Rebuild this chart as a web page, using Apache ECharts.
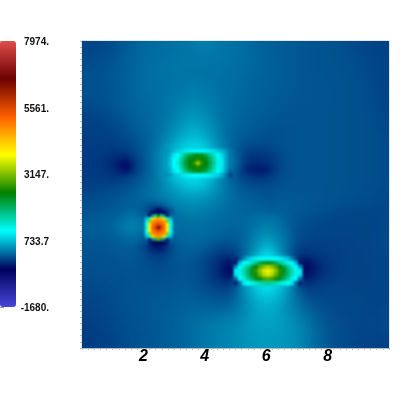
<!DOCTYPE html>
<html>
<head>
<meta charset="utf-8">
<style>
html, body { margin: 0; background: #fff; }
#chart, #sources { position: absolute; left: 0; top: 0; width: 410px; height: 410px; }
#soften { position: absolute; left: 82px; top: 41px; width: 307px; height: 307px; backdrop-filter: blur(3px); pointer-events: none; }
#sources { filter: blur(1.1px); pointer-events: none; }
</style>
<script src="https://cdn.jsdelivr.net/npm/echarts@6/dist/echarts.min.js"></script>
</head>
<body>
<div id="chart"></div>
<div id="soften"></div>
<div id="sources"></div>
<script>
// colour bar
var barColors = ['#4747db', '#00005b', '#00ffff', '#007f00', '#ffff00', '#ff6000', '#6b0000', '#e04c4c'];
var barMin = -1680;
var barMax = 7974;
var barTicks = [-1680, 733.7, 3147, 5561, 7974];
var barLabels = ['-1680.', '733.7', '3147.', '5561.', '7974.'];
var xTicks = [2, 4, 6, 8];

// field, top row first, whole plot
var field = [
[70,70,80,95,120,160,190,220,250,270,280,290,300,310,320,340,360,380,370,340,320,310,300,280,250,230,220,200,190,180,170,160,150,145,140,135,130,115,100,85,70,60,55,50],
[75,80,95,110,135,170,200,230,260,280,290,300,310,320,330,340,350,360,350,340,320,310,300,280,260,240,220,200,190,180,170,160,150,145,140,135,130,120,110,95,80,70,65,60],
[100,100,115,125,145,180,205,235,265,285,295,305,315,325,330,335,340,345,340,335,325,315,300,285,260,240,225,205,190,180,170,160,150,145,140,135,130,125,115,105,90,75,70,65],
[110,115,125,140,160,190,215,245,275,295,305,315,325,330,330,330,330,330,325,320,315,305,290,275,255,240,225,205,190,180,170,160,150,145,140,140,135,130,120,110,95,80,75,70],
[120,125,135,150,170,195,220,250,275,295,305,315,325,330,330,325,325,320,320,315,310,300,285,270,255,240,225,205,190,180,170,160,155,150,145,140,135,130,125,115,100,85,80,70],
[125,130,140,155,175,195,225,250,275,295,305,315,320,330,335,335,335,325,320,310,305,295,280,265,250,235,220,205,190,180,170,160,155,150,145,140,140,135,130,120,105,90,75,65],
[125,130,140,155,170,190,225,250,275,290,300,310,320,330,345,355,355,345,330,310,300,285,275,260,245,230,215,200,185,180,170,160,155,150,150,145,140,135,130,125,110,90,75,65],
[125,130,140,150,165,190,220,245,270,285,295,310,325,345,365,380,380,365,345,320,295,280,265,250,240,225,210,195,180,175,170,160,155,150,150,145,140,135,130,125,115,95,80,70],
[115,120,130,145,160,185,215,240,260,275,290,310,335,360,390,410,410,390,360,330,295,275,260,245,230,215,205,190,175,170,165,160,155,150,150,145,140,135,130,125,115,100,85,75],
[100,105,115,130,150,180,205,230,250,270,285,310,345,380,420,445,445,420,380,340,300,270,255,240,225,210,195,180,170,165,160,155,155,150,150,145,140,135,130,125,120,105,90,80],
[60,65,80,100,125,155,190,220,240,260,285,315,355,405,455,490,490,455,405,350,300,265,245,225,210,195,185,170,160,155,155,150,150,150,145,145,140,135,130,125,120,110,95,85],
[55,60,70,85,105,135,170,205,230,255,285,325,375,435,495,540,540,495,435,365,305,260,235,215,200,185,170,160,150,150,150,150,150,150,145,145,140,135,130,125,120,115,100,90],
[40,45,50,65,85,110,145,180,215,250,290,340,400,475,550,600,600,550,470,385,310,255,225,200,180,165,150,140,140,145,145,150,150,150,145,145,140,135,130,125,120,115,105,95],
[35,35,40,50,60,85,120,155,195,240,295,360,440,530,620,680,680,620,515,410,320,250,205,175,160,145,130,125,130,140,145,150,150,150,145,145,140,135,130,125,120,115,110,100],
[30,30,30,35,40,60,90,125,170,235,310,390,490,610,720,800,800,720,590,450,340,245,190,150,130,115,110,115,125,140,145,150,150,150,145,145,140,135,130,125,120,115,110,105],
[25,25,20,15,10,20,45,90,150,235,330,440,600,720,800,850,850,800,680,520,370,250,150,90,60,50,60,85,115,135,145,150,150,150,145,145,140,135,130,125,120,115,110,105],
[20,15,10,-10,-40,-70,-50,40,130,240,340,470,600,700,750,800,800,750,680,560,390,320,170,20,-20,-25,-10,30,90,130,145,150,150,150,145,145,140,135,130,125,120,115,110,105],
[15,10,0,-30,-90,-180,-260,-30,110,230,340,480,620,720,760,800,800,760,700,570,400,330,170,0,-50,-55,-30,20,85,125,145,150,150,150,145,145,140,135,130,125,120,115,110,105],
[20,15,5,-20,-70,-160,-230,-20,120,235,340,470,600,700,750,800,800,750,680,560,380,300,100,-120,-170,-200,-170,-10,80,125,145,150,150,150,145,145,140,135,130,125,120,115,110,105],
[25,25,20,5,-10,10,50,100,170,245,330,450,620,760,830,880,880,830,720,500,330,210,110,40,0,-10,10,60,105,135,145,150,150,150,145,145,140,135,130,125,120,115,110,105],
[40,40,45,50,60,80,110,150,200,265,340,420,530,650,750,800,800,750,620,480,350,250,170,120,95,85,90,110,130,145,150,150,150,150,145,145,140,135,130,125,120,115,110,105],
[70,70,80,95,110,130,160,195,240,285,340,400,470,540,600,640,640,600,530,440,350,270,215,175,150,135,130,140,155,165,165,160,155,150,145,140,135,130,125,120,115,110,105,100],
[100,105,115,130,150,170,195,220,250,285,325,375,425,470,510,530,530,500,450,395,340,285,240,210,190,175,165,165,175,180,175,165,160,155,150,140,135,125,120,115,110,105,100,95],
[120,125,135,150,165,180,200,215,225,180,150,200,330,410,435,450,450,430,395,350,310,275,250,230,215,205,190,190,195,190,180,170,160,150,140,130,120,110,105,100,95,90,90,90],
[140,150,160,170,185,215,250,260,200,0,-200,-150,170,320,370,385,385,370,345,315,285,265,255,245,240,235,225,215,200,185,170,155,140,125,115,105,95,90,85,80,80,80,80,85],
[170,180,185,195,225,280,330,345,300,350,350,350,300,280,310,325,330,320,300,280,265,255,255,265,290,320,340,320,270,205,160,135,115,100,90,80,75,70,70,70,70,70,75,85],
[200,205,200,215,255,320,380,390,330,400,500,500,350,300,290,290,295,290,275,260,250,245,245,265,310,350,380,350,290,220,155,120,100,85,75,70,65,65,65,65,65,70,75,90],
[190,195,190,200,230,285,330,345,290,300,350,350,300,270,275,280,285,280,265,245,225,215,225,265,340,410,460,410,340,250,150,100,85,70,65,60,60,60,60,65,65,70,80,95],
[165,170,170,180,200,225,250,260,220,80,-100,-100,100,220,250,260,260,250,225,195,165,170,205,280,380,480,560,480,380,260,130,80,60,55,50,50,50,55,55,60,65,70,80,95],
[145,150,155,160,175,190,200,190,120,-50,-250,-200,30,170,210,230,225,195,150,110,85,100,170,300,420,570,680,570,420,270,110,40,20,25,30,35,40,45,50,55,60,70,80,90],
[135,140,145,150,160,170,175,165,130,70,0,0,90,165,190,190,170,135,80,30,0,10,100,260,480,720,880,720,480,240,40,-20,-20,0,15,25,35,45,50,55,60,65,70,80],
[125,130,135,140,145,155,160,160,135,105,80,85,120,155,170,160,130,80,20,-50,-150,-200,200,500,750,900,950,900,750,500,200,-230,-180,-100,-40,0,25,40,45,50,55,60,65,70],
[115,120,125,130,135,140,145,145,135,115,100,105,125,150,160,150,120,70,0,-80,-220,-280,300,600,750,800,800,800,750,600,300,-280,-250,-160,-60,-10,20,40,45,50,50,55,60,65],
[110,115,120,120,125,130,135,135,130,125,120,120,135,155,160,150,120,75,0,-70,-200,-240,300,600,750,800,800,800,750,600,300,-260,-200,-120,-40,0,25,45,50,50,50,55,60,65],
[95,100,105,115,120,125,130,135,135,135,135,140,150,165,170,160,130,90,30,-20,-60,-20,300,550,780,880,920,880,780,550,300,-50,-80,-30,10,30,45,55,55,55,55,60,60,65],
[85,90,95,105,115,125,135,140,145,150,155,160,165,175,180,175,155,125,90,60,50,100,280,520,700,840,900,840,700,520,280,100,30,30,45,55,60,60,60,60,60,60,60,65],
[70,75,85,95,110,120,135,145,155,160,165,170,175,185,195,195,180,160,140,125,125,180,320,480,620,730,780,730,620,480,320,180,100,75,70,70,70,70,70,65,65,60,60,65],
[60,65,75,90,105,120,135,145,155,165,170,175,180,195,205,215,210,200,190,185,190,240,340,450,570,650,680,650,570,450,340,240,160,120,90,85,80,80,75,70,65,60,60,70],
[55,60,70,85,100,115,130,145,155,165,175,180,190,205,225,240,245,245,245,250,260,300,370,450,540,600,620,600,540,450,370,290,210,165,125,105,90,85,80,75,65,65,70,85],
[45,50,60,75,95,110,125,140,155,165,175,190,200,220,240,260,275,285,295,310,330,360,410,470,540,580,590,580,540,470,410,340,265,205,155,120,100,90,80,75,70,70,80,90],
[35,40,50,65,85,105,120,135,150,160,175,190,205,225,250,275,295,315,335,360,380,405,440,490,540,560,570,560,540,490,440,380,305,240,180,130,110,95,85,75,70,70,80,95],
[30,35,45,60,80,100,120,130,145,160,175,190,205,225,250,280,305,330,355,380,400,425,455,495,530,545,550,545,530,495,455,395,320,255,190,140,115,100,85,75,70,70,75,85],
[25,30,40,55,75,95,115,130,145,160,175,190,205,225,250,280,310,335,360,385,405,430,460,490,520,530,530,530,520,490,460,405,330,265,200,150,120,100,85,75,65,65,65,70],
[25,30,40,55,75,95,115,130,145,160,175,190,205,225,250,280,310,335,360,390,410,435,460,490,510,520,520,520,510,490,460,410,335,270,205,155,125,105,85,70,60,55,55,55]
];

// finer samples over the three sources
var upperBar = [
[470,560,700,800,900,980,1030,1050,1060,1050,1030,980,900,800,680,520,340],
[500,650,950,1090,1450,1800,2100,2250,2350,2250,2050,1750,1400,1090,880,600,340],
[520,700,1050,1200,1650,2050,2350,2500,2600,2500,2350,1950,1550,1150,950,620,350],
[540,740,1080,1300,1750,2150,2450,2650,3300,2650,2450,2050,1650,1200,980,620,350],
[520,700,1050,1200,1650,2050,2350,2500,2600,2500,2350,1950,1550,1150,950,600,330],
[500,640,950,1090,1450,1800,2100,2250,2350,2250,2050,1750,1400,1090,880,560,250],
[450,540,700,800,900,980,1030,1050,1060,1050,1030,980,900,800,640,380,80]
];
var lowerBar = [
[-100,100,450,750,900,1000,1080,1100,1100,1100,1080,1000,900,750,450,100,-100],
[-150,700,1050,1150,1400,1700,2000,2200,2300,2200,2000,1700,1400,1150,1050,700,-150],
[500,1080,1300,1700,2100,2500,2900,3200,3400,3200,2900,2500,2100,1700,1300,1080,500],
[1000,1200,1500,1900,2300,2700,3200,3600,4000,3600,3200,2700,2300,1900,1500,1200,1000],
[900,1150,1450,1850,2200,2600,3000,3400,3600,3400,3000,2600,2200,1850,1450,1150,900],
[300,1050,1250,1600,1950,2300,2550,2800,2900,2800,2550,2300,1950,1600,1250,1050,300],
[-100,300,950,1080,1200,1350,1500,1600,1650,1600,1500,1350,1200,1080,950,300,-100]
];
var blob = [
[150,100,0,-120,-200,-120,0,100,150],
[150,-50,-280,-300,-300,-300,-280,-50,150],
[250,-250,400,1600,2400,1600,400,-250,250],
[700,1200,3600,4400,4700,4400,3600,1200,700],
[1000,3300,4700,5000,5100,5000,4700,3300,1000],
[1100,3900,5000,5300,5600,5300,5000,3900,1100],
[1200,4000,5100,5700,6500,5700,5100,4000,1200],
[1100,3900,5000,5300,5600,5300,5000,3900,1100],
[1000,3300,4700,5000,5100,5000,4700,3300,1000],
[700,1200,3600,4600,4800,4600,3600,1200,700],
[250,-250,400,2000,3000,2000,400,-250,250],
[150,-100,-280,-290,-300,-290,-280,-100,150]
];

// x, yTop, cell size, value
function toCells(rows, x0, yTop, step) {
    var out = [];
    rows.forEach(function(row, j) {
        row.forEach(function(v, i) {
            out.push([x0 + i * step, yTop - j * step, step, v]);
        });
    });
    return out;
}

function cellSeries(data) {
    return {
        type: 'custom',
        xAxisIndex: 0, yAxisIndex: 0,
        encode: { x: 0, y: 1 },
        clip: true,
        progressive: 0,
        renderItem: function(params, api) {
            var p = api.coord([api.value(0), api.value(1)]);
            var s = api.size([api.value(2), api.value(2)]);
            return {
                type: 'rect',
                shape: { x: p[0], y: p[1], width: s[0] + 0.6, height: s[1] + 0.6 },
                style: { fill: api.visual('color') }
            };
        },
        data: data
    };
}

var fieldCells = toCells(field, 0, 10, 10 / 44);
var sourceCells = toCells(upperBar, 2.667, 6.48, 4 / 30.7)
    .concat(toCells(lowerBar, 4.945, 2.97, 4 / 30.7))
    .concat(toCells(blob, 2.049, 4.56, 3 / 30.7));

var axisGrey = '#b4bec9';
var chart = echarts.init(document.getElementById('chart'));
chart.setOption({
    animation: false,
    backgroundColor: '#fff',
    grid: [
        { left: 82, top: 41, width: 307, height: 307, show: true, borderColor: '#c3ccd5', borderWidth: 1 },
        { left: 0, top: 41, width: 16, height: 266 }
    ],
    xAxis: [{
        gridIndex: 0, type: 'value', min: 0, max: 10, interval: 2,
        axisLine: { show: true, onZero: false, lineStyle: { color: axisGrey } },
        axisTick: { show: true, length: 2, lineStyle: { color: axisGrey } },
        minorTick: { show: true, splitNumber: 10, length: 2, lineStyle: { color: axisGrey } },
        splitLine: { show: false },
        axisLabel: {
            customValues: xTicks, margin: 1, color: '#000',
            fontFamily: 'Liberation Sans', fontSize: 16, fontWeight: 'bold', fontStyle: 'italic'
        }
    }, {
        gridIndex: 1, type: 'value', show: false
    }],
    yAxis: [{
        gridIndex: 0, type: 'value', min: 0, max: 10, interval: 2,
        axisLine: { show: true, onZero: false, lineStyle: { color: axisGrey } },
        axisTick: { show: true, length: 2, lineStyle: { color: axisGrey } },
        minorTick: { show: true, splitNumber: 10, length: 2, lineStyle: { color: axisGrey } },
        splitLine: { show: false },
        axisLabel: { show: false }
    }, {
        gridIndex: 1, type: 'value', position: 'right', min: barMin, max: barMax,
        axisLine: { show: false },
        axisTick: { show: true, length: 4, customValues: barTicks, lineStyle: { color: '#999' } },
        splitLine: { show: false },
        axisLabel: {
            customValues: barTicks, margin: 33, align: 'right',
            formatter: function(v) {
                return '{a|' + barLabels[barTicks.indexOf(v)] + '}';
            },
            rich: {
                a: {
                    padding: [3, 0, 0, 0], color: '#111',
                    fontFamily: 'Liberation Sans', fontSize: 10, fontWeight: 'bold'
                }
            }
        }
    }],
    visualMap: {
        type: 'continuous', show: true, seriesIndex: 0, dimension: 3,
        min: barMin, max: barMax, left: 0, top: 41, padding: 0,
        itemWidth: 16, itemHeight: 266, calculable: false, realtime: false,
        inRange: { color: barColors }
    },
    series: [cellSeries(fieldCells)]
});

// sharper layer for the sources, same grid
var sources = echarts.init(document.getElementById('sources'));
sources.setOption({
    animation: false,
    grid: { left: 82, top: 41, width: 307, height: 307 },
    xAxis: { type: 'value', min: 0, max: 10, show: false },
    yAxis: { type: 'value', min: 0, max: 10, show: false },
    visualMap: {
        type: 'continuous', show: false, seriesIndex: 0, dimension: 3,
        min: barMin, max: barMax,
        inRange: { color: barColors }
    },
    series: [cellSeries(sourceCells)]
});
</script>
</body>
</html>
